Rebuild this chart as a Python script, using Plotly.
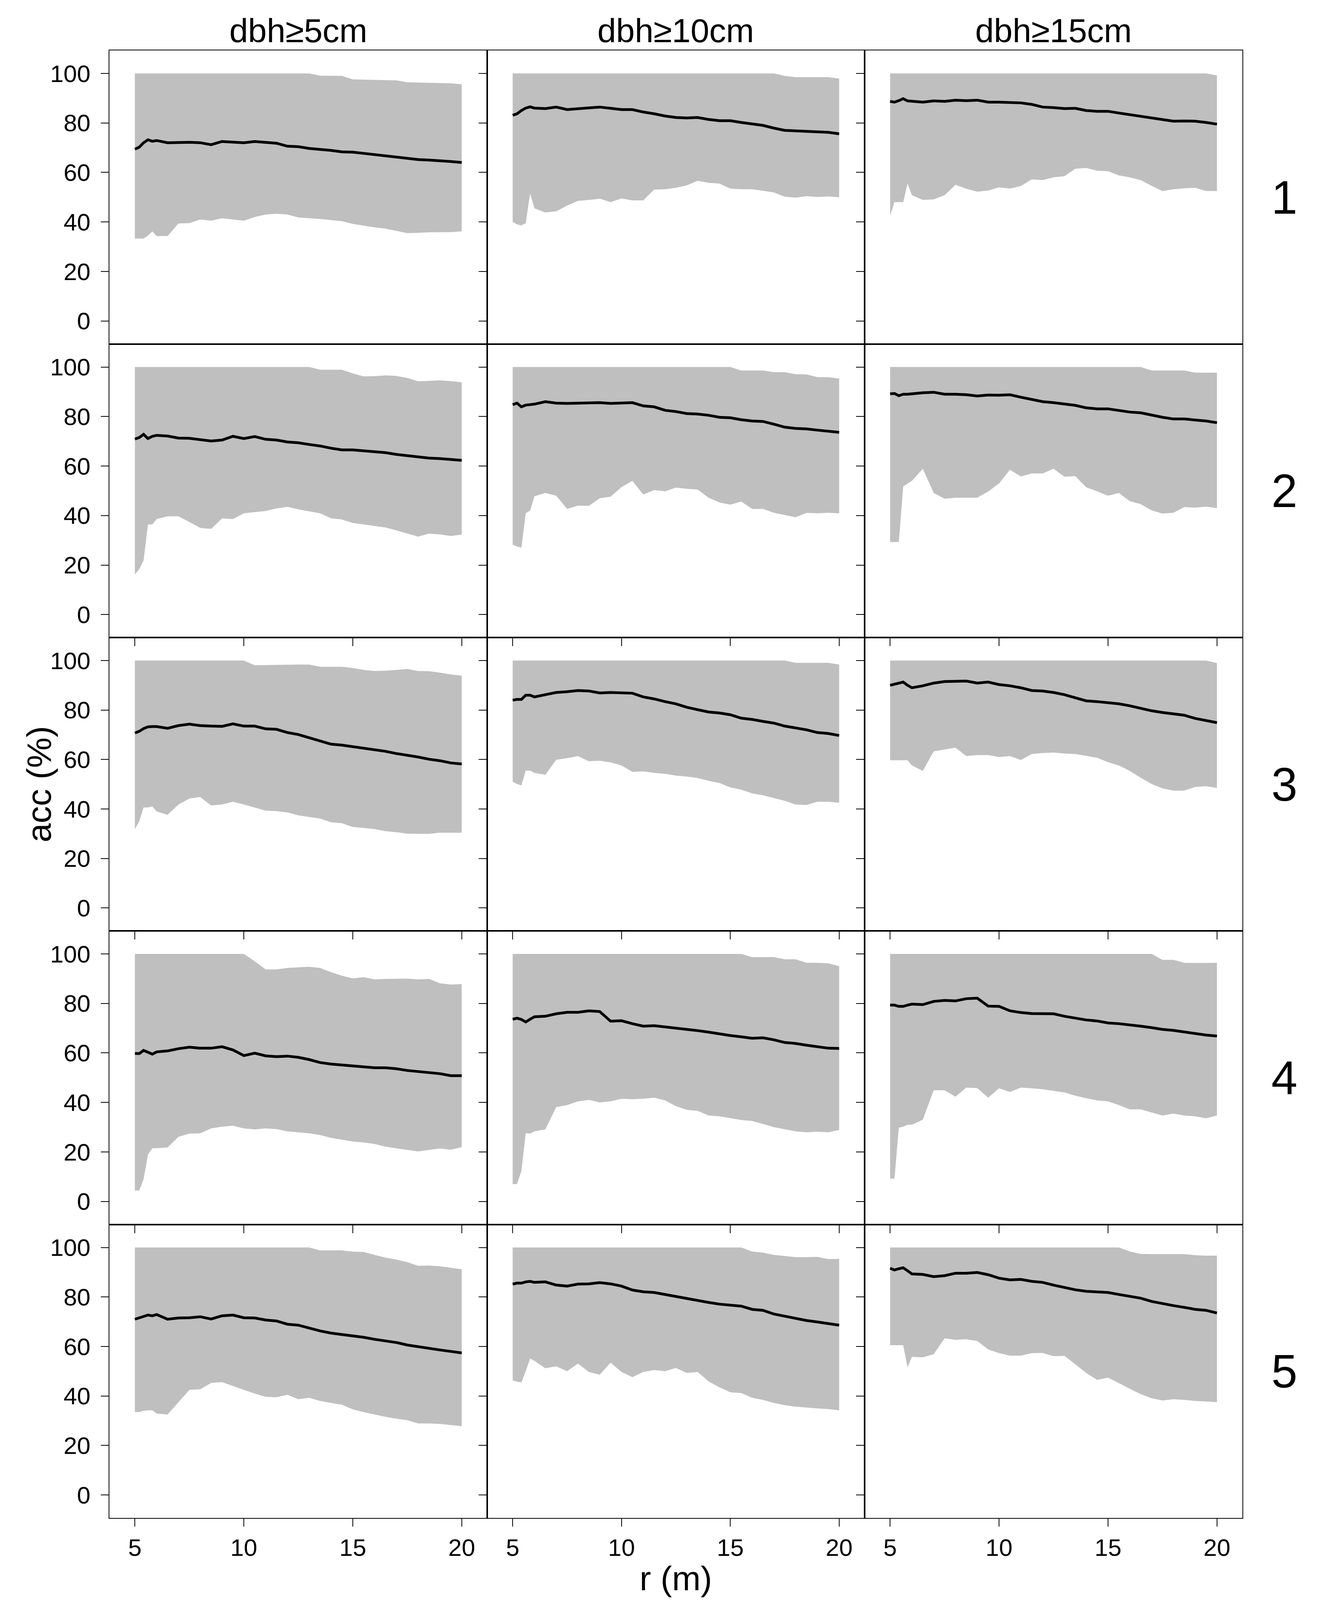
import plotly.graph_objects as go

# ---------------- data ----------------
R = [5.0, 5.2, 5.4, 5.6, 5.8, 6.0, 6.5, 7.0, 7.5, 8.0, 8.5, 9.0, 9.5, 10.0, 10.5,
     11.0, 11.5, 12.0, 12.5, 13.0, 13.5, 14.0, 14.5, 15.0, 15.5, 16.0, 16.5, 17.0,
     17.5, 18.0, 18.5, 19.0, 19.5, 20.0]

COL_LABELS = ["dbh≥5cm", "dbh≥10cm", "dbh≥15cm"]
ROW_LABELS = ["1", "2", "3", "4", "5"]
X_TICKS = [5, 10, 15, 20]
Y_TICKS = [0, 20, 40, 60, 80, 100]

# row 1
MEAN_1_5 = [69.4, 70.2, 72.0, 73.2, 72.6, 72.9, 72.0, 72.1, 72.2, 72.0, 71.2, 72.5, 72.2, 72.0, 72.5, 72.1, 71.8, 70.6, 70.4, 69.7, 69.4, 68.9, 68.3, 68.2, 67.7, 67.2, 66.7, 66.2, 65.6, 65.2, 65.0, 64.8, 64.4, 64.0]
UP_1_5 = [100] * 20 + [99.1, 99.0, 99.0, 97.6, 97.5, 97.4, 97.3, 97.2, 96.4, 96.3, 96.3, 96.2, 96.0, 95.6]
LO_1_5 = [33.3, 33.3, 33.3, 34.5, 36.2, 34.3, 34.3, 39.4, 39.5, 41.0, 40.5, 41.5, 41.0, 40.5, 42.0, 43.0, 43.3, 43.0, 41.8, 41.5, 41.2, 40.8, 40.3, 39.2, 38.5, 37.8, 37.3, 36.4, 35.5, 35.6, 35.8, 35.9, 35.9, 36.2]

MEAN_1_10 = [83.1, 83.7, 85.0, 86.0, 86.5, 86.0, 85.8, 86.4, 85.4, 85.8, 86.0, 86.4, 85.9, 85.4, 85.4, 84.4, 83.7, 82.8, 82.2, 82.0, 82.2, 81.4, 80.9, 80.9, 80.2, 79.5, 79.0, 77.9, 77.0, 76.8, 76.6, 76.5, 76.2, 75.6]
UP_1_10 = [100] * 28 + [99.0, 98.5, 98.5, 98.5, 98.5, 97.9]
LO_1_10 = [40.0, 39.0, 38.6, 39.5, 51.5, 45.5, 43.8, 44.3, 46.6, 48.5, 48.9, 49.4, 48.0, 49.5, 48.7, 48.7, 53.1, 53.2, 53.8, 54.8, 56.6, 55.8, 55.5, 53.5, 53.2, 53.2, 52.6, 51.9, 50.2, 49.8, 50.4, 50.1, 50.3, 50.0]

MEAN_1_15 = [88.7, 88.4, 89.0, 89.8, 88.9, 88.7, 88.4, 88.9, 88.7, 89.2, 89.0, 89.2, 88.4, 88.4, 88.2, 88.1, 87.5, 86.4, 86.2, 85.8, 85.9, 85.0, 84.7, 84.7, 84.0, 83.3, 82.8, 81.9, 81.3, 80.7, 80.8, 80.7, 80.2, 79.5]
UP_1_15 = [100] * 33 + [99.2]
LO_1_15 = [42.5, 48.0, 48.0, 48.0, 55.5, 50.8, 48.9, 49.1, 50.8, 55.0, 53.4, 52.2, 52.7, 54.0, 53.5, 54.5, 57.2, 56.9, 58.0, 58.5, 61.5, 61.8, 60.7, 60.5, 58.8, 58.0, 56.9, 54.6, 52.5, 53.2, 53.6, 53.8, 52.5, 52.5]

# row 2
MEAN_2_5 = [70.9, 71.5, 72.8, 71.1, 72.0, 72.4, 72.1, 71.3, 71.2, 70.7, 70.1, 70.5, 72.0, 71.1, 71.9, 70.8, 70.5, 69.7, 69.4, 68.7, 68.1, 67.2, 66.5, 66.5, 66.1, 65.6, 65.4, 64.7, 64.2, 63.8, 63.2, 63.0, 62.7, 62.3]
UP_2_5 = [100] * 20 + [98.9, 98.9, 98.9, 97.4, 96.2, 96.3, 96.6, 96.4, 95.6, 94.2, 94.4, 94.6, 94.3, 93.8]
LO_2_5 = [16.2, 18.3, 21.9, 36.4, 36.4, 38.6, 39.7, 39.7, 37.4, 35.0, 34.6, 38.8, 38.6, 40.9, 41.3, 41.8, 42.9, 43.5, 42.5, 41.7, 40.9, 38.9, 38.4, 37.0, 36.4, 35.8, 35.2, 34.0, 32.8, 31.5, 32.7, 32.4, 31.7, 32.3]

MEAN_2_10 = [84.8, 85.4, 83.9, 84.6, 84.8, 85.0, 86.0, 85.4, 85.3, 85.4, 85.4, 85.6, 85.3, 85.4, 85.6, 84.3, 83.9, 82.5, 82.0, 81.2, 81.0, 80.5, 79.7, 79.5, 78.7, 78.2, 78.0, 76.9, 75.7, 75.2, 75.0, 74.5, 74.1, 73.6]
UP_2_10 = [100] * 24 + [98.6, 98.6, 98.6, 97.9, 97.9, 97.1, 97.0, 95.9, 95.9, 95.3]
LO_2_10 = [28.3, 27.5, 27.0, 40.9, 42.0, 47.8, 49.1, 48.0, 42.7, 44.0, 43.9, 47.0, 47.6, 51.5, 54.0, 48.5, 50.3, 49.8, 51.3, 50.8, 50.5, 47.2, 45.3, 44.4, 45.7, 42.7, 42.7, 41.1, 40.2, 39.3, 41.1, 40.9, 41.1, 40.9]

MEAN_2_15 = [89.2, 89.3, 88.4, 89.0, 89.0, 89.2, 89.6, 89.8, 89.0, 89.0, 88.8, 88.3, 88.7, 88.6, 88.8, 87.8, 86.9, 86.0, 85.6, 85.0, 84.5, 83.5, 83.1, 83.1, 82.5, 81.8, 81.5, 80.5, 79.7, 79.0, 79.0, 78.6, 78.2, 77.5]
UP_2_15 = [100] * 27 + [98.6, 98.6, 98.6, 98.6, 97.7, 97.7, 97.7]
LO_2_15 = [29.3, 29.3, 29.3, 51.7, 52.9, 54.0, 58.9, 49.1, 46.8, 47.2, 47.2, 47.2, 49.7, 53.0, 58.5, 55.8, 57.0, 57.0, 58.9, 55.7, 55.9, 51.4, 49.8, 48.0, 49.1, 45.8, 44.6, 42.1, 40.8, 41.1, 43.4, 43.2, 43.6, 43.0]

# row 3
MEAN_3_5 = [70.7, 71.4, 72.5, 73.2, 73.3, 73.3, 72.6, 73.7, 74.3, 73.7, 73.5, 73.4, 74.4, 73.5, 73.5, 72.4, 72.2, 70.9, 70.1, 68.8, 67.5, 66.2, 65.8, 65.2, 64.4, 63.9, 63.3, 62.4, 61.8, 61.0, 60.1, 59.5, 58.6, 58.2]
UP_3_5 = [100] * 14 + [98.1, 98.2, 98.2, 98.3, 98.4, 98.4, 97.5, 97.5, 97.5, 97.0, 96.2, 95.8, 95.9, 96.2, 96.6, 95.8, 95.7, 95.1, 94.4, 93.9]
LO_3_5 = [31.8, 35.0, 40.6, 40.6, 41.0, 39.0, 37.6, 41.8, 44.2, 44.8, 41.4, 41.8, 42.9, 41.8, 40.6, 39.3, 39.1, 38.6, 37.4, 36.8, 36.1, 34.6, 34.2, 32.7, 32.3, 31.9, 31.0, 30.6, 30.0, 30.0, 29.9, 30.4, 30.4, 30.4]

MEAN_3_10 = [84.0, 84.3, 84.3, 86.0, 86.0, 85.3, 86.2, 87.1, 87.4, 87.9, 87.7, 86.9, 87.1, 86.9, 86.8, 85.3, 84.5, 83.4, 82.5, 81.1, 80.1, 79.2, 78.8, 78.1, 76.7, 76.2, 75.4, 74.7, 73.5, 72.8, 72.0, 70.9, 70.5, 69.7]
UP_3_10 = [100] * 29 + [99.1, 99.1, 99.1, 99.1, 98.4]
LO_3_10 = [51.0, 50.1, 49.5, 55.5, 55.5, 54.6, 53.8, 59.9, 60.5, 61.4, 59.3, 59.5, 58.8, 57.6, 55.0, 55.2, 54.6, 54.2, 53.5, 53.1, 52.5, 51.4, 50.5, 48.7, 47.8, 46.3, 45.5, 44.4, 43.3, 41.8, 41.6, 42.9, 42.9, 42.5]

MEAN_3_15 = [90.0, 90.5, 91.0, 91.3, 90.0, 89.0, 89.8, 90.9, 91.5, 91.7, 91.7, 90.9, 91.3, 90.3, 89.8, 89.0, 87.9, 87.7, 87.1, 86.2, 85.0, 83.7, 83.4, 83.0, 82.5, 81.7, 80.7, 79.7, 79.0, 78.4, 77.9, 76.6, 75.8, 74.9]
UP_3_15 = [100] * 33 + [99.0]
LO_3_15 = [59.7, 59.7, 59.7, 59.7, 59.7, 57.6, 55.4, 63.3, 64.1, 64.8, 61.4, 61.8, 61.8, 61.0, 61.4, 59.8, 62.2, 62.6, 62.8, 62.4, 62.2, 61.4, 60.7, 58.9, 57.6, 55.4, 52.6, 50.1, 48.3, 47.4, 47.4, 48.9, 49.2, 48.5]

# row 4
MEAN_4_5 = [59.8, 59.7, 61.0, 60.2, 59.5, 60.4, 60.8, 61.7, 62.3, 61.9, 61.9, 62.5, 61.2, 58.9, 59.9, 58.8, 58.5, 58.7, 58.2, 57.3, 56.1, 55.5, 55.1, 54.6, 54.2, 54.0, 54.0, 53.6, 52.9, 52.5, 52.1, 51.6, 50.8, 50.8]
UP_4_5 = [100] * 14 + [97.0, 93.7, 93.7, 94.3, 94.6, 94.8, 94.3, 92.6, 91.2, 90.1, 90.6, 89.7, 89.9, 90.0, 90.0, 89.7, 89.9, 88.1, 87.6, 87.8]
LO_4_5 = [4.4, 4.4, 9.0, 18.9, 21.5, 21.5, 21.8, 26.1, 27.4, 27.5, 29.5, 30.2, 30.6, 29.5, 29.1, 29.5, 29.2, 28.3, 27.9, 27.5, 26.8, 25.7, 24.9, 24.2, 23.8, 23.2, 22.1, 21.5, 20.8, 20.2, 20.8, 21.4, 20.9, 21.9]

MEAN_4_10 = [73.6, 74.0, 73.5, 72.5, 73.6, 74.6, 74.8, 75.8, 76.4, 76.4, 77.0, 76.7, 72.8, 73.0, 71.8, 70.8, 71.0, 70.5, 70.2, 69.5, 69.0, 68.4, 67.6, 67.0, 66.5, 65.9, 66.1, 65.3, 64.2, 63.8, 63.1, 62.5, 61.9, 61.8]
UP_4_10 = [100] * 25 + [98.7, 98.7, 98.7, 97.8, 97.8, 96.4, 96.4, 96.2, 95.0]
LO_4_10 = [7.0, 7.0, 12.3, 27.6, 27.4, 28.3, 29.1, 38.1, 38.9, 40.4, 41.0, 40.0, 40.4, 41.5, 41.3, 41.5, 41.9, 40.8, 38.5, 37.0, 36.6, 34.7, 34.4, 33.6, 32.9, 32.5, 31.3, 30.0, 29.2, 28.3, 27.9, 28.2, 27.9, 28.9]

MEAN_4_15 = [79.3, 79.3, 78.8, 78.8, 79.3, 79.7, 79.5, 80.8, 81.2, 81.0, 81.9, 82.1, 78.9, 78.8, 77.0, 76.3, 75.9, 75.8, 75.8, 74.8, 74.0, 73.3, 72.9, 72.1, 71.8, 71.4, 70.8, 70.2, 69.5, 69.1, 68.4, 67.7, 67.2, 66.8]
UP_4_15 = [100] * 28 + [97.6, 97.6, 96.4, 96.3, 96.3, 96.4]
LO_4_15 = [9.2, 9.2, 29.8, 30.2, 31.0, 31.0, 33.0, 44.9, 44.9, 42.3, 46.0, 45.8, 41.9, 45.7, 44.2, 46.0, 45.7, 45.3, 44.6, 44.0, 42.7, 41.7, 40.8, 40.4, 38.9, 37.2, 37.2, 35.9, 34.7, 35.5, 34.7, 34.4, 33.6, 34.7]

# row 5
MEAN_5_5 = [71.0, 71.5, 72.1, 72.7, 72.4, 72.9, 71.0, 71.5, 71.6, 72.0, 71.1, 72.4, 72.7, 71.6, 71.5, 70.7, 70.3, 69.0, 68.6, 67.4, 66.3, 65.4, 64.8, 64.4, 63.7, 62.9, 62.2, 61.6, 60.6, 59.9, 59.1, 58.6, 58.0, 57.4]
UP_5_5 = [100] * 20 + [98.8, 98.8, 98.8, 98.3, 98.2, 97.0, 95.9, 95.1, 94.1, 92.6, 92.7, 92.4, 91.8, 91.2]
LO_5_5 = [33.5, 33.5, 34.0, 34.2, 34.2, 32.9, 32.5, 37.5, 42.5, 42.7, 45.3, 45.6, 44.0, 42.5, 41.0, 39.7, 39.5, 40.5, 38.7, 39.3, 38.0, 37.2, 36.5, 34.6, 33.5, 32.5, 31.6, 30.8, 30.2, 28.9, 28.9, 28.7, 28.2, 27.8]

MEAN_5_10 = [85.2, 85.6, 85.6, 86.1, 86.3, 85.9, 86.1, 84.8, 84.4, 85.2, 85.3, 85.8, 85.3, 84.4, 82.8, 82.1, 81.8, 81.0, 80.1, 79.2, 78.5, 77.8, 77.1, 76.7, 76.3, 75.0, 74.6, 73.1, 72.2, 71.5, 70.5, 69.9, 69.3, 68.6]
UP_5_10 = [100] * 25 + [98.4, 97.9, 97.0, 96.5, 96.1, 96.1, 96.2, 95.3, 95.4]
LO_5_10 = [46.3, 45.8, 45.5, 50.0, 55.1, 54.2, 51.2, 52.0, 50.0, 53.1, 49.7, 48.6, 53.5, 49.7, 47.6, 49.7, 50.5, 50.0, 51.3, 49.3, 49.7, 45.9, 43.5, 41.5, 41.2, 39.3, 38.4, 37.2, 36.3, 35.7, 35.3, 35.0, 34.7, 34.2]

MEAN_5_15 = [91.6, 90.9, 91.4, 91.8, 90.6, 89.3, 89.1, 88.2, 88.6, 89.6, 89.6, 89.9, 89.0, 87.6, 86.9, 87.1, 86.3, 85.9, 84.8, 83.8, 82.9, 82.3, 82.0, 81.8, 81.0, 80.3, 79.5, 78.2, 77.3, 76.5, 75.8, 75.0, 74.6, 73.5]
UP_5_15 = [100] * 25 + [98.4, 97.4, 97.3, 97.3, 97.3, 97.3, 96.9, 96.7, 96.7]
LO_5_15 = [60.5, 60.5, 60.5, 60.5, 51.6, 55.8, 55.6, 56.9, 63.3, 62.7, 62.9, 62.2, 58.8, 57.3, 56.3, 56.3, 57.3, 57.4, 56.1, 56.2, 52.8, 49.3, 46.5, 47.4, 45.2, 42.9, 40.8, 39.1, 38.2, 38.7, 38.4, 38.0, 37.8, 37.5]

PANELS = [
    [(MEAN_1_5, UP_1_5, LO_1_5), (MEAN_1_10, UP_1_10, LO_1_10), (MEAN_1_15, UP_1_15, LO_1_15)],
    [(MEAN_2_5, UP_2_5, LO_2_5), (MEAN_2_10, UP_2_10, LO_2_10), (MEAN_2_15, UP_2_15, LO_2_15)],
    [(MEAN_3_5, UP_3_5, LO_3_5), (MEAN_3_10, UP_3_10, LO_3_10), (MEAN_3_15, UP_3_15, LO_3_15)],
    [(MEAN_4_5, UP_4_5, LO_4_5), (MEAN_4_10, UP_4_10, LO_4_10), (MEAN_4_15, UP_4_15, LO_4_15)],
    [(MEAN_5_5, UP_5_5, LO_5_5), (MEAN_5_10, UP_5_10, LO_5_10), (MEAN_5_15, UP_5_15, LO_5_15)],
]

# ---------------- layout ----------------
# Positions are taken from the 3399x5270 reference and used as fractions,
# so the figure keeps its proportions at whatever height the viewport has.
W, H = 3399, 5270
FIG_H = 4096
COL_EDGES = [280, 1247, 2213, 3180]
ROW_EDGES = [166, 1133, 2100, 3066, 4033, 5000]
FONT = "Liberation Sans, Arial, Helvetica, sans-serif"
FILL = "#BFBFBF"

fig = go.Figure()
layout = dict(
    width=W, height=FIG_H, margin=dict(l=0, r=0, t=0, b=0),
    paper_bgcolor="white", plot_bgcolor="white", showlegend=False,
    font=dict(family=FONT, color="black"),
)

for r in range(5):
    for c in range(3):
        k = r * 3 + c + 1
        xa = "x" if k == 1 else f"x{k}"
        ya = "y" if k == 1 else f"y{k}"
        mean, up, lo = PANELS[r][c]
        fig.add_trace(go.Scatter(
            x=R + R[::-1], y=up + lo[::-1], fill="toself", fillcolor=FILL,
            mode="lines", line=dict(width=0, color=FILL), xaxis=xa, yaxis=ya,
            hoverinfo="skip"))
        fig.add_trace(go.Scatter(
            x=R, y=mean, mode="lines", line=dict(color="black", width=7),
            xaxis=xa, yaxis=ya))
        xname = "xaxis" if k == 1 else f"xaxis{k}"
        yname = "yaxis" if k == 1 else f"yaxis{k}"
        layout[xname] = dict(
            domain=[COL_EDGES[c] / W, COL_EDGES[c + 1] / W],
            anchor=ya, range=[3.83, 21.17], tickvals=X_TICKS,
            showgrid=False, zeroline=False, showline=True, mirror=True,
            linecolor="black", linewidth=2,
            ticks="outside" if r > 0 else "", ticklen=20, tickwidth=2, tickcolor="black",
            showticklabels=(r == 4), tickfont=dict(size=62, family=FONT),
            ticklabelstandoff=0,
        )
        layout[yname] = dict(
            domain=[1 - ROW_EDGES[r + 1] / H, 1 - ROW_EDGES[r] / H],
            anchor=xa, range=[-9.3, 109.3], tickvals=Y_TICKS,
            showgrid=False, zeroline=False, showline=True, mirror=True,
            linecolor="black", linewidth=2,
            ticks="outside", ticklen=20, tickwidth=2, tickcolor="black",
            showticklabels=(c == 0), tickfont=dict(size=62, family=FONT),
            ticklabelstandoff=14,
        )

annotations = []
for c, lab in enumerate(COL_LABELS):
    annotations.append(dict(
        text=lab, xref="paper", yref="paper",
        x=(COL_EDGES[c] + COL_EDGES[c + 1]) / 2 / W, y=1 - 100 / H,
        xanchor="center", yanchor="middle", showarrow=False,
        font=dict(size=86, family=FONT, color="black")))
for r, lab in enumerate(ROW_LABELS):
    annotations.append(dict(
        text=lab, xref="paper", yref="paper",
        x=3287 / W, y=1 - (ROW_EDGES[r] + ROW_EDGES[r + 1]) / 2 / H,
        xanchor="center", yanchor="middle", showarrow=False,
        font=dict(size=120, family=FONT, color="black")))
annotations.append(dict(
    text="acc (%)", xref="paper", yref="paper", x=100 / W,
    y=1 - (ROW_EDGES[0] + ROW_EDGES[-1]) / 2 / H, textangle=-90,
    xanchor="center", yanchor="middle", showarrow=False,
    font=dict(size=88, family=FONT, color="black")))
annotations.append(dict(
    text="r (m)", xref="paper", yref="paper",
    x=(COL_EDGES[0] + COL_EDGES[-1]) / 2 / W, y=1 - 5198 / H,
    xanchor="center", yanchor="middle", showarrow=False,
    font=dict(size=88, family=FONT, color="black")))
layout["annotations"] = annotations

fig.update_layout(**layout)

# Make the figure fill the browser viewport exactly (no scrollbars, no clipping).
POST = """
var gd = document.getElementById('{plot_id}');
document.documentElement.style.margin = '0';
document.body.style.margin = '0';
document.body.style.overflow = 'hidden';
var w = window.innerWidth, h = window.innerHeight;
if (Math.abs(w - gd.layout.width) > 2 || Math.abs(h - gd.layout.height) > 2) {
  Plotly.relayout(gd, {width: w, height: h});
}
"""
fig.write_html("out.html", post_script=POST, config={"displayModeBar": False})
